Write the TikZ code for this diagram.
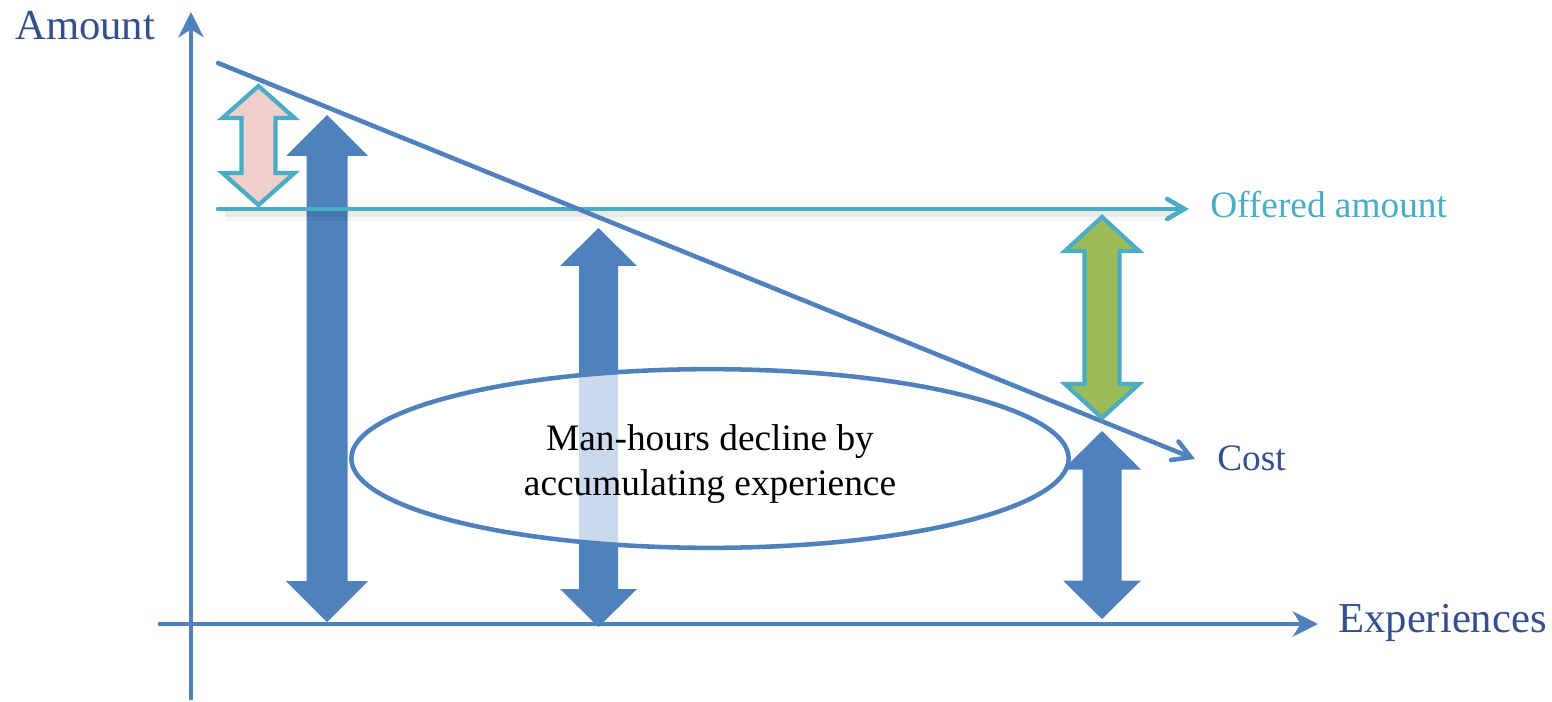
\documentclass[tikz,border=0pt]{standalone}
\usepackage{fontspec}
\setmainfont{Liberation Serif}
\usetikzlibrary{arrows.meta,shapes.geometric}
\definecolor{cblue}{HTML}{4F81BD}
\definecolor{caqua}{HTML}{4BACC6}
\definecolor{ctext}{HTML}{344F8E}
\definecolor{cpink}{HTML}{F0CFCD}
\definecolor{cgreen}{HTML}{9BBB59}
\newcommand\dblarr[7]{% style, cx, ytop, ybot, headhalf, shafthalf, headlen
 \draw[#1] (#2,#3) -- ({#2+#5},{#3+#7}) -- ({#2+#6},{#3+#7}) -- ({#2+#6},{#4-#7}) -- ({#2+#5},{#4-#7}) -- (#2,#4) -- ({#2-#5},{#4-#7}) -- ({#2-#6},{#4-#7}) -- ({#2-#6},{#3+#7}) -- ({#2-#5},{#3+#7}) -- cycle;}
\begin{document}
\begin{tikzpicture}[x=0.75pt,y=-0.75pt,
  axisline/.style={cblue, line width=3pt, -{Stealth[length=19pt,width=19pt,inset=6pt]}},
  barbline/.style={line width=3.4pt, line cap=round, -{Straight Barb[length=13pt,width=15pt,line cap=round]}},
  bluearr/.style={fill=cblue, draw=none},
  outarr/.style={draw=caqua, line width=3.2pt, line join=miter},
  axislabel/.style={text=ctext, font=\fontsize{32}{38}\selectfont, inner sep=0pt, anchor=base west},
  curvelabel/.style={font=\fontsize{28}{34}\selectfont, inner sep=0pt, anchor=base west}]
\useasboundingbox (0,0) rectangle (1552,702);
\fill[white] (0,0) rectangle (1552,702);
% axes
\coordinate (yb) at (191,700);
\coordinate (yt) at (191,12);
\coordinate (xl) at (158,624);
\coordinate (xr) at (1318,624);
\draw[axisline] (yb) -- (yt);
\draw[axisline] (xl) -- (xr);
% blue double arrows
\dblarr{bluearr}{327}{115}{622}{41}{20.5}{41}
\dblarr{bluearr}{598.5}{228}{627}{38.5}{19.5}{38}
\dblarr{bluearr}{1102}{431}{619}{39}{19.5}{38.5}
% pink arrow
\dblarr{outarr, fill=cpink}{258.5}{86}{205}{36}{17}{32}
% offered amount line
\coordinate (os) at (218,209);
\coordinate (oe) at (1189,209);
\draw[black, opacity=0.05, line width=5pt] (225,214) -- (1175,214);
\draw[black, opacity=0.03, line width=9pt] (225,215) -- (1175,215);
\draw[barbline, caqua] (os) -- (oe);
% cost line
\coordinate (cs) at (218,63);
\coordinate (ce) at (1195,459);
\draw[barbline, cblue] (cs) -- (ce);
% green arrow
\dblarr{outarr, fill=cgreen}{1102}{217}{418}{37}{17.5}{34}
% ellipse
\node[ellipse, draw=cblue, line width=3.4pt, fill=white, fill opacity=0.7,
  minimum width=538pt, minimum height=134pt, inner sep=0pt] (ell) at (710,458.5) {};
\node[align=center, font=\fontsize{28}{33.75}\selectfont, inner sep=0pt] (lbl) at (710,464.5)
  {Man-hours decline by\\accumulating experience};
% labels
\node[axislabel] (amt) at (15,40) {Amount};
\node[axislabel] (exp) at (1338,632) {Experiences};
\node[curvelabel, text=caqua] (off) at (1210,218) {Offered amount};
\node[curvelabel, text=ctext] (cost) at (1217,470) {Cost};
\end{tikzpicture}
\end{document}
